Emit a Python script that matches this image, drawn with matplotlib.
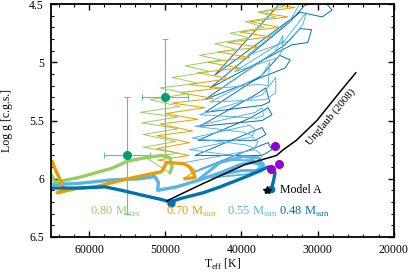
import matplotlib
matplotlib.use("Agg")
import matplotlib.pyplot as plt
from matplotlib.ticker import MultipleLocator

plt.rcParams['font.family'] = ['Liberation Serif', 'DejaVu Serif']
plt.rcParams['mathtext.fontset'] = 'custom'
plt.rcParams['mathtext.rm'] = 'Liberation Serif'

C_080 = "#97cf5f"
C_070 = "#e69f00"
C_055 = "#56b4e9"
C_048 = "#0072b2"

# --- thick tracks (Teff, log g) ---
thick_080_t = [64900, 64500, 61400, 57000, 55000, 52700, 50500, 49400, 49100, 49400]
thick_080_g = [5.97, 6.03, 5.99, 5.91, 5.85, 5.82, 5.80, 5.82, 5.90, 5.95]

thick_070_t = [64900, 64500, 63800, 63200, 64200, 61400, 59200, 54900, 50500, 49800, 47600, 46800, 46300, 46100, 47600]
thick_070_g = [5.84, 5.91, 6.01, 6.10, 6.12, 6.08, 6.07, 6.00, 5.94, 5.86, 5.87, 5.90, 5.95, 5.99, 6.00]

thick_055_t = [65000, 61400, 57000, 53300, 51400, 50900, 51000, 48500, 45500, 42800, 40200, 38900, 37500]
thick_055_g = [6.05, 6.04, 6.01, 6.00, 5.98, 6.03, 6.10, 6.07, 6.01, 5.95, 5.88, 5.86, 5.87]

fan_055_t = [45500, 42800, 39800, 37800, 37100, 37800, 40000, 43500]
fan_055_g = [6.00, 5.86, 5.81, 5.82, 5.88, 5.93, 5.93, 5.97]

fan2_055_t = [46500, 42000, 38500, 37500, 39000, 44000]
fan2_055_g = [5.95, 5.84, 5.84, 5.90, 5.96, 5.99]

thick_048_t = [65000, 61400, 57900, 55700, 53100, 50400, 49400, 48000, 45000, 42800, 39300,
               37500, 36600, 36000, 35600, 35800, 36000, 36300, 36800]
thick_048_g = [6.08, 6.08, 6.07, 6.10, 6.14, 6.18, 6.20, 6.17, 6.12, 6.07, 5.98,
               5.93, 5.90, 5.90, 5.95, 6.02, 6.07, 6.09, 6.10]

# --- thin pulse tracks ---
thin_080_t = [49400, 52500, 48300, 52900, 48600, 52900, 48300, 53100, 48300, 53300, 48100,
              52000, 47000, 50700, 45700, 49100, 44100, 47400, 42600, 45500, 40700, 43500,
              38900, 41500, 37000, 39500, 35500, 37800, 34300, 36300]
thin_080_g = [5.95, 5.82, 5.78, 5.73, 5.68, 5.62, 5.57, 5.52, 5.47, 5.43, 5.38,
              5.32, 5.27, 5.22, 5.18, 5.13, 5.08, 5.03, 4.98, 4.94, 4.89, 4.84,
              4.79, 4.75, 4.70, 4.65, 4.61, 4.57, 4.52, 4.49]

thin_070_t = [47600, 46000, 47000, 51000, 46900, 51100, 46800, 51100, 46400, 50700, 45700,
              50000, 44800, 49100, 43700, 48100, 42600, 47000, 41500, 45800, 40200, 44400,
              38900, 43100, 37600, 41800, 36300, 40200, 35000, 38900, 33900, 37800, 33000, 36800]
thin_070_g = [6.00, 5.93, 5.88, 5.84, 5.80, 5.74, 5.69, 5.63, 5.59, 5.53, 5.49,
              5.44, 5.39, 5.35, 5.31, 5.26, 5.22, 5.19, 5.14, 5.09, 5.05, 5.00,
              4.96, 4.91, 4.87, 4.83, 4.78, 4.74, 4.70, 4.65, 4.61, 4.57, 4.53, 4.49]

thin_055_t = [47400, 38200, 37300, 37800, 38900, 46800, 38600, 37800, 38300, 39400, 46500,
              38900, 38100, 38600, 39700, 46100, 38200, 37300, 37100, 38100, 45500, 37300,
              35500, 35500, 36800, 44100, 37300, 36300, 36500, 37800, 42600, 35600, 34600,
              34600, 35200, 40900, 34300, 32300, 31500, 31900, 33600, 39200, 33600, 32300]
thin_055_g = [5.86, 5.75, 5.80, 5.86, 5.82, 5.75, 5.64, 5.68, 5.74, 5.71, 5.65,
              5.54, 5.58, 5.63, 5.60, 5.55, 5.43, 5.39, 5.46, 5.48, 5.45, 5.28,
              5.13, 5.26, 5.32, 5.34, 5.11, 5.00, 5.20, 5.19, 5.22, 4.91, 4.77,
              4.89, 4.96, 5.08, 4.81, 4.64, 4.57, 4.67, 4.81, 4.94, 4.64, 4.49]

thin_048_t = [45500, 38900, 36500, 36000, 37300, 46100, 39500, 37300, 36800, 38200, 45700,
              38900, 36500, 36000, 37300, 45500, 38200, 36800, 36300, 37300, 44800, 37300,
              35000, 33600, 34300, 44800, 34300, 32300, 30800, 31300, 33400, 44100, 33600,
              31700, 29100, 28100, 29400, 32300, 43500, 34600]
thin_048_g = [5.92, 5.75, 5.69, 5.75, 5.80, 5.80, 5.62, 5.56, 5.62, 5.67, 5.67,
              5.48, 5.39, 5.45, 5.50, 5.55, 5.28, 5.22, 5.34, 5.37, 5.43, 5.11,
              4.94, 4.98, 5.05, 5.32, 4.85, 4.71, 4.72, 4.83, 4.85, 5.22, 4.65,
              4.51, 4.48, 4.55, 4.61, 4.57, 5.11, 4.47]

# Unglaub (2008) line
ung_t = [49800, 45000, 39600, 35400, 34500, 32800, 30100, 26900, 25000]
ung_g = [6.19, 6.04, 5.88, 5.80, 5.75, 5.67, 5.50, 5.24, 5.09]

# observed stars with error bars
obs_t = [50000, 55000]
obs_g = [5.30, 5.80]
obs_terr = [3000, 3000]
obs_gerr = [0.5, 0.5]

# purple stars
pur_t = [35650, 35130, 36140]
pur_g = [5.72, 5.87, 5.92]

model_t, model_g = 36700, 6.10

mass_labels = ["0.80 M$_\\mathrm{sun}$", "0.70 M$_\\mathrm{sun}$",
               "0.55 M$_\\mathrm{sun}$", "0.48 M$_\\mathrm{sun}$"]
mass_label_t = [59900, 49950, 41950, 35050]
mass_colors = [C_080, C_070, C_055, C_048]

fig = plt.figure(figsize=(4.09, 2.73), dpi=100)
ax = fig.add_axes([0.1247, 0.132, 0.8383, 0.853])

thin_lw = 0.7
ax.plot(thin_048_t, thin_048_g, color=C_048, lw=thin_lw)
ax.plot(thin_055_t, thin_055_g, color=C_055, lw=thin_lw)
ax.plot(thin_070_t, thin_070_g, color=C_070, lw=thin_lw)
ax.plot(thin_080_t, thin_080_g, color=C_080, lw=thin_lw)

ax.errorbar(obs_t, obs_g, xerr=obs_terr, yerr=obs_gerr, fmt='none',
            ecolor="#5cc49e", elinewidth=0.8, capsize=2, capthick=0.8)

ax.plot(fan2_055_t, fan2_055_g, color=C_055, lw=1.3)
ax.plot(fan_055_t, fan_055_g, color=C_055, lw=2.2)
ax.plot(thick_055_t, thick_055_g, color=C_055, lw=2.4, solid_capstyle='round')
ax.plot(thick_080_t, thick_080_g, color=C_080, lw=2.4, solid_capstyle='round')
ax.plot(thick_070_t, thick_070_g, color=C_070, lw=2.4, solid_capstyle='butt')
ax.plot(thick_048_t, thick_048_g, color=C_048, lw=2.4, solid_capstyle='round')
ax.plot([49300], [6.21], 'o', color=C_048, ms=5)
ax.plot([36100], [6.09], 'o', color=C_048, ms=4.5)

ax.plot(ung_t, ung_g, color='black', lw=1.1)
ax.text(28300, 5.47, "Unglaub (2008)", rotation=50, ha='center', va='center', fontsize=8)

ax.plot(obs_t, obs_g, 'o', color="#009e73", ms=5.5, zorder=5)
ax.plot(pur_t, pur_g, 'o', color="#9400d3", ms=5.5, zorder=5)
ax.plot([model_t], [model_g], '*', color='black', ms=6, zorder=6)
ax.text(34950, 6.10, "Model A", ha='left', va='center', fontsize=8.5)

for lab, t, c in zip(mass_labels, mass_label_t, mass_colors):
    ax.text(t, 6.31, lab, color=c, ha='left', va='baseline', fontsize=9)

ax.set_xlim(65000, 20000)
ax.set_ylim(6.5, 4.5)
ax.xaxis.set_major_locator(MultipleLocator(10000))
ax.xaxis.set_minor_locator(MultipleLocator(2000))
ax.yaxis.set_major_locator(MultipleLocator(0.5))
ax.yaxis.set_minor_locator(MultipleLocator(0.1))
ax.set_xticks([60000, 50000, 40000, 30000, 20000])
ax.set_yticks([4.5, 5, 5.5, 6, 6.5])
ax.set_yticklabels(["4.5", "5", "5.5", "6", "6.5"])
ax.tick_params(which='both', direction='in', top=True, right=True, labelsize=8.5)
ax.tick_params(which='major', length=4, width=1)
ax.tick_params(which='minor', length=2, width=0.8)
ax.tick_params(axis='x', pad=5)
ax.tick_params(axis='y', pad=5)
for s in ax.spines.values():
    s.set_linewidth(1.3)

ax.set_xlabel("T$_\\mathrm{eff}$ [K]", fontsize=8.5)
ax.set_ylabel("Log g [c.g.s.]", fontsize=8.5)
ax.xaxis.set_label_coords(0.5, -0.085)
ax.yaxis.set_label_coords(-0.112, 0.5)

fig.savefig("out.png", dpi=100)
